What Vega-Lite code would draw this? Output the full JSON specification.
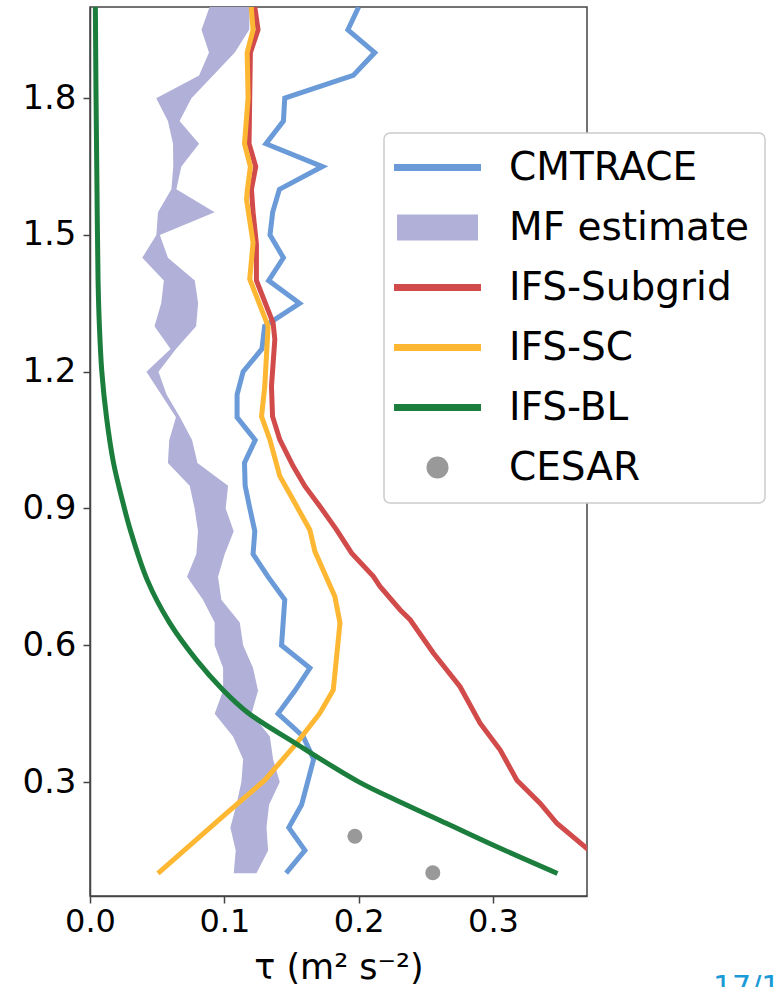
{
  "$schema": "https://vega.github.io/schema/vega-lite/v6.json",
  "width": 497,
  "height": 889,
  "autosize": {"type": "none"},
  "padding": {"left": 90, "top": 7, "right": 194, "bottom": 91},
  "background": "#ffffff",
  "config": {
    "font": "DejaVu Sans",
    "view": {"stroke": "#444444", "strokeWidth": 1.5},
    "axis": {
      "grid": false,
      "labelFlush": false,
      "domainColor": "#444444",
      "domainWidth": 1.5,
      "tickColor": "#444444",
      "tickWidth": 1.5,
      "tickSize": 7,
      "labelColor": "#000000",
      "labelFont": "DejaVu Sans",
      "titleFont": "DejaVu Sans",
      "titleFontWeight": "normal",
      "titleColor": "#000000"
    }
  },
  "title": {
    "text": "17/1",
    "orient": "bottom",
    "anchor": "end",
    "frame": "group",
    "align": "left",
    "baseline": "top",
    "dx": 126,
    "offset": -12,
    "color": "#1a9ad6",
    "fontSize": 30,
    "fontWeight": "normal",
    "font": "DejaVu Sans"
  },
  "datasets": {
    "lines": [
      {"series": "CMTRACE", "y": 2.0, "x": 0.200},
      {"series": "CMTRACE", "y": 1.95, "x": 0.192},
      {"series": "CMTRACE", "y": 1.9, "x": 0.212},
      {"series": "CMTRACE", "y": 1.85, "x": 0.196},
      {"series": "CMTRACE", "y": 1.8, "x": 0.145},
      {"series": "CMTRACE", "y": 1.75, "x": 0.144},
      {"series": "CMTRACE", "y": 1.7, "x": 0.131},
      {"series": "CMTRACE", "y": 1.65, "x": 0.173},
      {"series": "CMTRACE", "y": 1.6, "x": 0.141},
      {"series": "CMTRACE", "y": 1.55, "x": 0.136},
      {"series": "CMTRACE", "y": 1.5, "x": 0.134},
      {"series": "CMTRACE", "y": 1.45, "x": 0.144},
      {"series": "CMTRACE", "y": 1.4, "x": 0.133},
      {"series": "CMTRACE", "y": 1.35, "x": 0.156},
      {"series": "CMTRACE", "y": 1.3, "x": 0.130},
      {"series": "CMTRACE", "y": 1.25, "x": 0.128},
      {"series": "CMTRACE", "y": 1.2, "x": 0.114},
      {"series": "CMTRACE", "y": 1.15, "x": 0.1095},
      {"series": "CMTRACE", "y": 1.1, "x": 0.1095},
      {"series": "CMTRACE", "y": 1.05, "x": 0.123},
      {"series": "CMTRACE", "y": 1.0, "x": 0.115},
      {"series": "CMTRACE", "y": 0.95, "x": 0.1155},
      {"series": "CMTRACE", "y": 0.9, "x": 0.119},
      {"series": "CMTRACE", "y": 0.85, "x": 0.1227},
      {"series": "CMTRACE", "y": 0.8, "x": 0.1214},
      {"series": "CMTRACE", "y": 0.75, "x": 0.1326},
      {"series": "CMTRACE", "y": 0.7, "x": 0.145},
      {"series": "CMTRACE", "y": 0.65, "x": 0.1438},
      {"series": "CMTRACE", "y": 0.6, "x": 0.1426},
      {"series": "CMTRACE", "y": 0.55, "x": 0.1637},
      {"series": "CMTRACE", "y": 0.5, "x": 0.1525},
      {"series": "CMTRACE", "y": 0.45, "x": 0.140},
      {"series": "CMTRACE", "y": 0.4, "x": 0.1587},
      {"series": "CMTRACE", "y": 0.35, "x": 0.1665},
      {"series": "CMTRACE", "y": 0.3, "x": 0.162},
      {"series": "CMTRACE", "y": 0.25, "x": 0.1575},
      {"series": "CMTRACE", "y": 0.2, "x": 0.148},
      {"series": "CMTRACE", "y": 0.15, "x": 0.160},
      {"series": "CMTRACE", "y": 0.1, "x": 0.146},

      {"series": "IFS-Subgrid", "y": 2.0, "x": 0.1227},
      {"series": "IFS-Subgrid", "y": 1.95, "x": 0.1251},
      {"series": "IFS-Subgrid", "y": 1.9, "x": 0.1194},
      {"series": "IFS-Subgrid", "y": 1.8, "x": 0.1189},
      {"series": "IFS-Subgrid", "y": 1.7, "x": 0.1184},
      {"series": "IFS-Subgrid", "y": 1.65, "x": 0.1234},
      {"series": "IFS-Subgrid", "y": 1.6, "x": 0.1202},
      {"series": "IFS-Subgrid", "y": 1.55, "x": 0.1214},
      {"series": "IFS-Subgrid", "y": 1.48, "x": 0.1239},
      {"series": "IFS-Subgrid", "y": 1.4, "x": 0.1239},
      {"series": "IFS-Subgrid", "y": 1.307, "x": 0.1363},
      {"series": "IFS-Subgrid", "y": 1.271, "x": 0.1376},
      {"series": "IFS-Subgrid", "y": 1.168, "x": 0.1351},
      {"series": "IFS-Subgrid", "y": 1.102, "x": 0.1359},
      {"series": "IFS-Subgrid", "y": 1.051, "x": 0.1413},
      {"series": "IFS-Subgrid", "y": 0.993, "x": 0.1512},
      {"series": "IFS-Subgrid", "y": 0.949, "x": 0.160},
      {"series": "IFS-Subgrid", "y": 0.905, "x": 0.1711},
      {"series": "IFS-Subgrid", "y": 0.853, "x": 0.1836},
      {"series": "IFS-Subgrid", "y": 0.802, "x": 0.1948},
      {"series": "IFS-Subgrid", "y": 0.751, "x": 0.2109},
      {"series": "IFS-Subgrid", "y": 0.729, "x": 0.2159},
      {"series": "IFS-Subgrid", "y": 0.678, "x": 0.2308},
      {"series": "IFS-Subgrid", "y": 0.656, "x": 0.2383},
      {"series": "IFS-Subgrid", "y": 0.583, "x": 0.2556},
      {"series": "IFS-Subgrid", "y": 0.509, "x": 0.2755},
      {"series": "IFS-Subgrid", "y": 0.429, "x": 0.2904},
      {"series": "IFS-Subgrid", "y": 0.37, "x": 0.3054},
      {"series": "IFS-Subgrid", "y": 0.304, "x": 0.3178},
      {"series": "IFS-Subgrid", "y": 0.253, "x": 0.3352},
      {"series": "IFS-Subgrid", "y": 0.209, "x": 0.3477},
      {"series": "IFS-Subgrid", "y": 0.154, "x": 0.370},
      {"series": "IFS-Subgrid", "y": 0.1, "x": 0.392},

      {"series": "IFS-SC", "y": 2.0, "x": 0.120},
      {"series": "IFS-SC", "y": 1.95, "x": 0.1214},
      {"series": "IFS-SC", "y": 1.9, "x": 0.117},
      {"series": "IFS-SC", "y": 1.8, "x": 0.1177},
      {"series": "IFS-SC", "y": 1.7, "x": 0.115},
      {"series": "IFS-SC", "y": 1.65, "x": 0.1194},
      {"series": "IFS-SC", "y": 1.6, "x": 0.1172},
      {"series": "IFS-SC", "y": 1.578, "x": 0.1165},
      {"series": "IFS-SC", "y": 1.483, "x": 0.1214},
      {"series": "IFS-SC", "y": 1.403, "x": 0.1189},
      {"series": "IFS-SC", "y": 1.3, "x": 0.1326},
      {"series": "IFS-SC", "y": 1.168, "x": 0.1301},
      {"series": "IFS-SC", "y": 1.102, "x": 0.1277},
      {"series": "IFS-SC", "y": 1.051, "x": 0.1339},
      {"series": "IFS-SC", "y": 0.971, "x": 0.1413},
      {"series": "IFS-SC", "y": 0.919, "x": 0.1512},
      {"series": "IFS-SC", "y": 0.853, "x": 0.1637},
      {"series": "IFS-SC", "y": 0.806, "x": 0.1674},
      {"series": "IFS-SC", "y": 0.707, "x": 0.1823},
      {"series": "IFS-SC", "y": 0.649, "x": 0.1861},
      {"series": "IFS-SC", "y": 0.502, "x": 0.1811},
      {"series": "IFS-SC", "y": 0.451, "x": 0.1711},
      {"series": "IFS-SC", "y": 0.385, "x": 0.1538},
      {"series": "IFS-SC", "y": 0.304, "x": 0.1301},
      {"series": "IFS-SC", "y": 0.231, "x": 0.1015},
      {"series": "IFS-SC", "y": 0.0995, "x": 0.0506},

      {"series": "IFS-BL", "y": 2.0, "x": 0.0040},
      {"series": "IFS-BL", "y": 1.8, "x": 0.0045},
      {"series": "IFS-BL", "y": 1.6, "x": 0.0052},
      {"series": "IFS-BL", "y": 1.4, "x": 0.0060},
      {"series": "IFS-BL", "y": 1.3, "x": 0.0070},
      {"series": "IFS-BL", "y": 1.2, "x": 0.0088},
      {"series": "IFS-BL", "y": 1.1, "x": 0.0123},
      {"series": "IFS-BL", "y": 1.0, "x": 0.0175},
      {"series": "IFS-BL", "y": 0.919, "x": 0.0240},
      {"series": "IFS-BL", "y": 0.853, "x": 0.0300},
      {"series": "IFS-BL", "y": 0.744, "x": 0.0425},
      {"series": "IFS-BL", "y": 0.649, "x": 0.0593},
      {"series": "IFS-BL", "y": 0.568, "x": 0.0792},
      {"series": "IFS-BL", "y": 0.502, "x": 0.0990},
      {"series": "IFS-BL", "y": 0.451, "x": 0.1180},
      {"series": "IFS-BL", "y": 0.385, "x": 0.1530},
      {"series": "IFS-BL", "y": 0.301, "x": 0.1997},
      {"series": "IFS-BL", "y": 0.253, "x": 0.2333},
      {"series": "IFS-BL", "y": 0.209, "x": 0.2656},
      {"series": "IFS-BL", "y": 0.158, "x": 0.3029},
      {"series": "IFS-BL", "y": 0.0995, "x": 0.348}
    ],
    "band": [
      {"series": "MF estimate", "y": 2.0, "x": 0.089, "hi": 0.119},
      {"series": "MF estimate", "y": 1.95, "x": 0.083, "hi": 0.1185},
      {"series": "MF estimate", "y": 1.9, "x": 0.0886, "hi": 0.1078},
      {"series": "MF estimate", "y": 1.85, "x": 0.0812, "hi": 0.0916},
      {"series": "MF estimate", "y": 1.8, "x": 0.0493, "hi": 0.0755},
      {"series": "MF estimate", "y": 1.75, "x": 0.058, "hi": 0.0667},
      {"series": "MF estimate", "y": 1.7, "x": 0.0618, "hi": 0.0812},
      {"series": "MF estimate", "y": 1.65, "x": 0.062, "hi": 0.068},
      {"series": "MF estimate", "y": 1.6, "x": 0.0606, "hi": 0.0643},
      {"series": "MF estimate", "y": 1.55, "x": 0.0506, "hi": 0.0928},
      {"series": "MF estimate", "y": 1.5, "x": 0.0494, "hi": 0.052},
      {"series": "MF estimate", "y": 1.45, "x": 0.0389, "hi": 0.058},
      {"series": "MF estimate", "y": 1.4, "x": 0.055, "hi": 0.078},
      {"series": "MF estimate", "y": 1.35, "x": 0.053, "hi": 0.0805},
      {"series": "MF estimate", "y": 1.3, "x": 0.048, "hi": 0.079},
      {"series": "MF estimate", "y": 1.25, "x": 0.060, "hi": 0.064},
      {"series": "MF estimate", "y": 1.2, "x": 0.042, "hi": 0.051},
      {"series": "MF estimate", "y": 1.15, "x": 0.053, "hi": 0.057},
      {"series": "MF estimate", "y": 1.1, "x": 0.064, "hi": 0.067},
      {"series": "MF estimate", "y": 1.05, "x": 0.059, "hi": 0.076},
      {"series": "MF estimate", "y": 1.0, "x": 0.058, "hi": 0.080},
      {"series": "MF estimate", "y": 0.95, "x": 0.0742, "hi": 0.1028},
      {"series": "MF estimate", "y": 0.9, "x": 0.0779, "hi": 0.101},
      {"series": "MF estimate", "y": 0.85, "x": 0.0804, "hi": 0.107},
      {"series": "MF estimate", "y": 0.8, "x": 0.0792, "hi": 0.1003},
      {"series": "MF estimate", "y": 0.75, "x": 0.0722, "hi": 0.0953},
      {"series": "MF estimate", "y": 0.7, "x": 0.0841, "hi": 0.0978},
      {"series": "MF estimate", "y": 0.65, "x": 0.0928, "hi": 0.1115},
      {"series": "MF estimate", "y": 0.6, "x": 0.0928, "hi": 0.114},
      {"series": "MF estimate", "y": 0.55, "x": 0.0991, "hi": 0.1214},
      {"series": "MF estimate", "y": 0.5, "x": 0.0991, "hi": 0.1251},
      {"series": "MF estimate", "y": 0.45, "x": 0.0928, "hi": 0.1202},
      {"series": "MF estimate", "y": 0.4, "x": 0.1065, "hi": 0.1339},
      {"series": "MF estimate", "y": 0.35, "x": 0.114, "hi": 0.1363},
      {"series": "MF estimate", "y": 0.3, "x": 0.1127, "hi": 0.1413},
      {"series": "MF estimate", "y": 0.25, "x": 0.109, "hi": 0.1333},
      {"series": "MF estimate", "y": 0.2, "x": 0.1045, "hi": 0.1314},
      {"series": "MF estimate", "y": 0.15, "x": 0.1085, "hi": 0.1326},
      {"series": "MF estimate", "y": 0.1, "x": 0.107, "hi": 0.1239}
    ],
    "cesar": [
      {"series": "CESAR", "y": 0.181, "x": 0.1972},
      {"series": "CESAR", "y": 0.101, "x": 0.2552}
    ]
  },
  "encoding": {
    "x": {
      "field": "x",
      "type": "quantitative",
      "scale": {"domain": [0, 0.37], "nice": false, "zero": false},
      "axis": {
        "values": [0, 0.1, 0.2, 0.3],
        "format": ".1f",
        "labelFontSize": 32,
        "labelPadding": 3,
        "title": "τ (m² s⁻²)",
        "titleFontSize": 35,
        "titlePadding": 13
      }
    },
    "y": {
      "field": "y",
      "type": "quantitative",
      "scale": {"domain": [0.05, 2.0], "nice": false, "zero": false},
      "axis": {
        "values": [0.3, 0.6, 0.9, 1.2, 1.5, 1.8],
        "format": ".1f",
        "labelFontSize": 34,
        "labelPadding": 7,
        "title": null
      }
    },
    "color": {
      "field": "series",
      "type": "nominal",
      "scale": {
        "domain": ["CMTRACE", "MF estimate", "IFS-Subgrid", "IFS-SC", "IFS-BL", "CESAR"],
        "range": ["#6a9bd8", "#b0b0d8", "#d24b4b", "#fdb733", "#1b7e3c", "#999999"]
      },
      "legend": {
        "orient": "none",
        "legendX": 294,
        "legendY": 126,
        "title": null,
        "labelFontSize": 39,
        "labelFont": "DejaVu Sans",
        "labelColor": "#000000",
        "labelLimit": 400,
        "symbolSize": 900,
        "symbolStrokeWidth": 1,
        "symbolOffset": 19,
        "labelOffset": 52,
        "rowPadding": 20,
        "padding": 15,
        "fillColor": "#ffffff",
        "strokeColor": "#cccccc",
        "cornerRadius": 6,
        "encode": {
          "legend": {"update": {"strokeWidth": {"value": 1.5}}},
          "symbols": {
            "update": {
              "shape": {"signal": "datum.value === 'MF estimate' ? 'M-2.7,-0.87H2.7V0.87H-2.7Z' : datum.value === 'CESAR' ? 'circle' : 'M-2.9,0H2.9'"},
              "size": {"signal": "datum.value === 'CESAR' ? 484 : 900"},
              "fill": {"signal": "datum.value === 'MF estimate' ? '#b0b0d8' : datum.value === 'CESAR' ? '#999999' : 'transparent'"},
              "stroke": {"signal": "datum.value === 'CMTRACE' ? '#6a9bd8' : datum.value === 'IFS-Subgrid' ? '#d24b4b' : datum.value === 'IFS-SC' ? '#fdb733' : datum.value === 'IFS-BL' ? '#1b7e3c' : 'transparent'"},
              "strokeWidth": {"signal": "datum.value === 'MF estimate' || datum.value === 'CESAR' ? 0 : 7"},
              "opacity": {"value": 1},
              "fillOpacity": {"value": 1},
              "strokeOpacity": {"value": 1}
            }
          }
        }
      }
    }
  },
  "layer": [
    {
      "data": {"name": "lines"},
      "transform": [{"filter": "datum.series === 'CMTRACE'"}],
      "mark": {"type": "line", "strokeWidth": 5, "clip": true},
      "encoding": {"order": {"field": "y", "type": "quantitative"}}
    },
    {
      "data": {"name": "band"},
      "mark": {"type": "area", "orient": "horizontal", "opacity": 1, "clip": true},
      "encoding": {"x2": {"field": "hi"}}
    },
    {
      "data": {"name": "lines"},
      "transform": [{"filter": "datum.series === 'IFS-Subgrid'"}],
      "mark": {"type": "line", "strokeWidth": 5, "clip": true},
      "encoding": {"order": {"field": "y", "type": "quantitative"}}
    },
    {
      "data": {"name": "lines"},
      "transform": [{"filter": "datum.series === 'IFS-SC'"}],
      "mark": {"type": "line", "strokeWidth": 5, "clip": true},
      "encoding": {"order": {"field": "y", "type": "quantitative"}}
    },
    {
      "data": {"name": "lines"},
      "transform": [{"filter": "datum.series === 'IFS-BL'"}],
      "mark": {"type": "line", "strokeWidth": 5, "clip": true, "interpolate": "catmull-rom"},
      "encoding": {"order": {"field": "y", "type": "quantitative"}}
    },
    {
      "data": {"name": "cesar"},
      "mark": {"type": "point", "filled": true, "shape": "circle", "size": 225, "opacity": 1, "clip": true}
    }
  ]
}
